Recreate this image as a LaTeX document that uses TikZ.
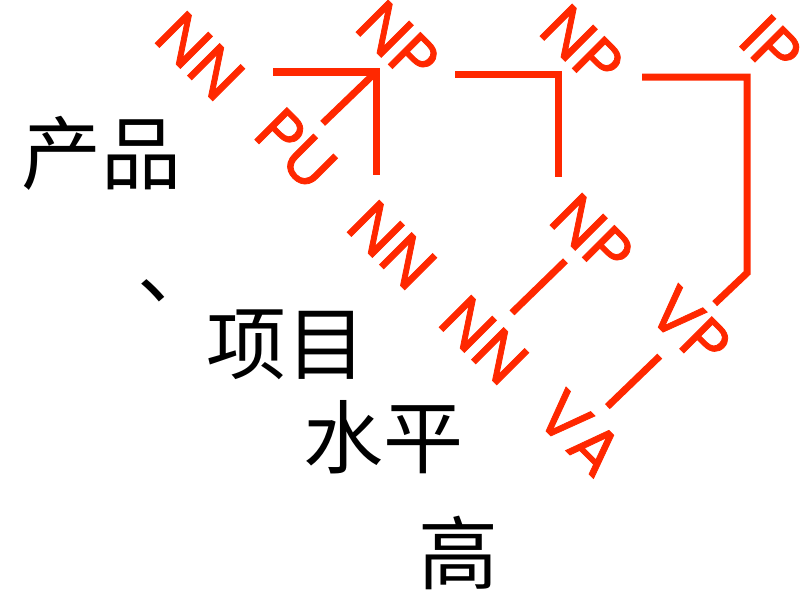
\documentclass[tikz,border=0pt]{standalone}
\usepackage{fontspec}
\newfontfamily\cjk{Noto Sans CJK SC}
\newfontfamily\tagfont[FakeBold=1.2]{Poppins}
\usepackage{tikz}
\definecolor{tagred}{RGB}{255,40,0}

\begin{document}
\begin{tikzpicture}
    [
    x=1pt, y=-1pt,
    word/.style = {inner sep=0pt,font=\cjk\fontsize{80}{80}\selectfont},
    tag/.style = {inner sep=0pt,rotate=-45,text=tagred,font=\tagfont\fontsize{65}{65}\selectfont},
    branch/.style = {draw=tagred,line width=7pt}
    ]
\useasboundingbox (0,0) rectangle (808,594);
\node[word] (w1) at (101,153) {产品};
\node[word] (w2) at (177,291) {、};
\node[word] (w3) at (286,345) {项目};
\node[word] (w4) at (383,437) {水平};
\node[word] (w5) at (458,553) {高};

\node[tag] (nn1) at (200,56) {NN};
\node[tag] (pu) at (296,149) {PU};
\node[tag] (np1) at (398,42) {NP};
\node[tag] (nn2) at (392,245) {NN};
\node[tag] (np2) at (582,46) {NP};
\node[tag] (np3) at (592,235) {NP};
\node[tag] (nn3) at (484,340) {NN};
\node[tag] (ip) at (771,46) {IP};
\node[tag] (vp) at (690,327) {VP};
\node[tag] (va) at (580,433) {VA};

\coordinate (np1-c) at (376,72);
\coordinate (np2-c) at (558,74);
\coordinate (ip-c) at (747,77);
\coordinate (ip-k) at (747,273);

\draw[branch,shorten <=73pt,shorten >=70pt] (nn1 |- np1-c) -- (np1-c) -- (np1-c |- nn2);
\draw[branch,shorten <=37pt] (pu.center) -- (np1-c);
\draw[branch,shorten <=57pt,shorten >=58pt] (np1 |- np2-c) -- (np2-c) -- (np2-c |- np3);
\draw[branch,shorten <=60pt,shorten >=34pt] (np2 |- ip-c) -- (ip-c) -- (ip-k) -- (vp.center);
\draw[branch,shorten <=37pt,shorten >=39pt] (np3.center) -- (nn3.center);
\draw[branch,shorten <=42pt,shorten >=38pt] (vp.center) -- (va.center);
\end{tikzpicture}
\end{document}
